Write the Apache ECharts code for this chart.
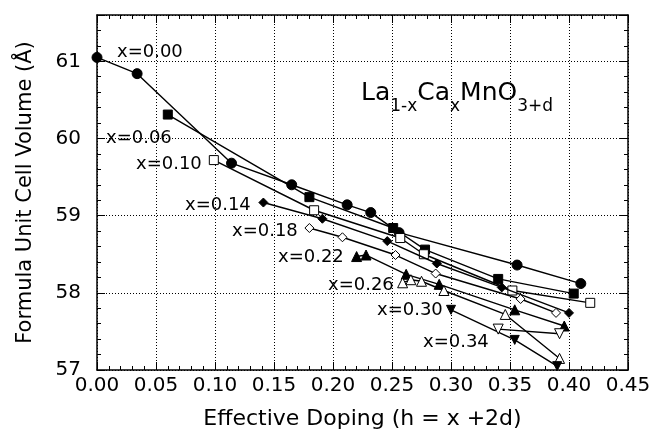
<!DOCTYPE html>
<html>
<head>
<meta charset="utf-8">
<script src="https://cdn.jsdelivr.net/npm/echarts@6/dist/echarts.min.js"></script>
<style>
html, body { margin: 0; padding: 0; background: #fff; }
#chart { width: 654px; height: 437px; }
</style>
</head>
<body>
<div id="chart"></div>
<script>
// composition labels, one per curve
const compositions = ["x=0.00", "x=0.06", "x=0.10", "x=0.14", "x=0.18", "x=0.22", "x=0.26", "x=0.30", "x=0.34"];

// effective doping h and unit cell volume for each composition
const h000 = [0, 0.034, 0.114, 0.165, 0.212, 0.232, 0.256, 0.356, 0.410];
const v000 = [61.05, 60.84, 59.68, 59.40, 59.14, 59.04, 58.78, 58.36, 58.12];
const h006 = [0.060, 0.180, 0.251, 0.278, 0.340, 0.404];
const v006 = [60.31, 59.24, 58.84, 58.56, 58.18, 57.99];
const h010 = [0.099, 0.184, 0.257, 0.277, 0.352, 0.418];
const v010 = [59.72, 59.07, 58.71, 58.50, 58.03, 57.87];
const h014 = [0.141, 0.191, 0.246, 0.288, 0.343, 0.400];
const v014 = [59.17, 58.96, 58.67, 58.38, 58.07, 57.74];
const h018 = [0.180, 0.208, 0.253, 0.287, 0.359, 0.389];
const v018 = [58.84, 58.72, 58.49, 58.25, 57.92, 57.74];
const h022 = [0.220, 0.228, 0.262, 0.290, 0.354, 0.396];
const v022 = [58.47, 58.49, 58.24, 58.11, 57.78, 57.57];
const h026 = [0.259, 0.266, 0.275, 0.294, 0.346, 0.392];
const v026 = [58.13, 58.17, 58.15, 58.03, 57.72, 57.15];
const h030 = [0.300, 0.354, 0.390];
const v030 = [57.78, 57.39, 57.05];
const h034 = [0.340, 0.392];
const v034 = [57.53, 57.47];

const xTicks = [0, 0.05, 0.10, 0.15, 0.20, 0.25, 0.30, 0.35, 0.40, 0.45];
const yTicks = [57, 58, 59, 60, 61];

const FONT = "DejaVu Sans";

function pairs(hs, vs) {
	return hs.map((h, i) => [h, vs[i]]);
}

// marker style per curve: [symbol, filled, size, rotate]
const markers = [
	["circle", true, 10, 0],
	["rect", true, 9, 0],
	["rect", false, 9, 0],
	["diamond", true, 9, 0],
	["diamond", false, 9, 0],
	["triangle", true, 10, 0],
	["triangle", false, 10, 0],
	["triangle", true, 9, 180],
	["triangle", false, 10, 180]
];

const curves = [
	pairs(h000, v000), pairs(h006, v006), pairs(h010, v010),
	pairs(h014, v014), pairs(h018, v018), pairs(h022, v022),
	pairs(h026, v026), pairs(h030, v030), pairs(h034, v034)
];

const series = curves.map((data, i) => {
	const m = markers[i];
	return {
		name: compositions[i],
		type: "line",
		data: data,
		symbol: m[0],
		symbolSize: m[2],
		symbolRotate: m[3],
		showAllSymbol: true,
		lineStyle: { color: "#000", width: 1.4 },
		itemStyle: {
			color: m[1] ? "#000" : "#fff",
			borderColor: "#000",
			borderWidth: 1
		},
		emphasis: { disabled: true },
		animation: false,
		z: 3 + i
	};
});

// where the composition labels sit (left edge, middle) in pixels
const labelSpots = [
	[117, 52], [106, 138], [136, 164], [185, 205], [232, 231],
	[278, 257], [328, 285], [377, 310], [423, 342]
];

const labelGraphics = compositions.map((t, i) => ({
	type: "text",
	x: labelSpots[i][0],
	y: labelSpots[i][1],
	z: 100,
	style: {
		text: t,
		font: "18px '" + FONT + "'",
		fill: "#000",
		align: "left",
		verticalAlign: "middle"
	}
}));

// La(1-x) Ca(x) MnO(3+d) with lowered subscripts
const formulaGraphic = {
	type: "text",
	x: 361,
	y: 81,
	z: 100,
	style: {
		text: "{m|La}{s|1-x}{m|Ca}{s|x}{m|MnO}{s|3+d}",
		fill: "#000",
		rich: {
			m: { fontFamily: FONT, fontSize: 25, lineHeight: 26, verticalAlign: "top", fill: "#000" },
			s: { fontFamily: FONT, fontSize: 17, lineHeight: 34, verticalAlign: "bottom", fill: "#000" }
		}
	}
};

const axisCommon = {
	axisLine: { show: true, onZero: false, lineStyle: { color: "#000", width: 1.5 } },
	axisTick: { show: true, inside: true, length: 8, lineStyle: { color: "#000", width: 1 } },
	minorTick: { show: true, splitNumber: 5, length: 4, lineStyle: { color: "#000", width: 1 } }
};

const xBase = Object.assign({}, axisCommon, {
	type: "value",
	min: xTicks[0],
	max: xTicks[xTicks.length - 1],
	interval: 0.05
});
const yBase = Object.assign({}, axisCommon, {
	type: "value",
	min: yTicks[0],
	max: 61.6,
	interval: 1
});

const chart = echarts.init(document.getElementById("chart"), null, { renderer: "canvas" });
chart.setOption({
	backgroundColor: "#fff",
	animation: false,
	grid: { left: 97, right: 26, top: 15, bottom: 67 },
	xAxis: [
		Object.assign({}, xBase, {
			position: "bottom",
			name: "Effective Doping (h = x +2d)",
			nameLocation: "middle",
			nameGap: 38,
			nameTextStyle: { fontFamily: FONT, fontSize: 22, color: "#000" },
			axisLabel: {
				show: true,
				margin: 6,
				fontFamily: FONT,
				fontSize: 20,
				color: "#000",
				formatter: v => v.toFixed(2)
			},
			splitLine: { show: true, lineStyle: { color: "#000", type: [1, 2], width: 1 } }
		}),
		Object.assign({}, xBase, {
			position: "top",
			axisLabel: { show: false },
			splitLine: { show: false }
		})
	],
	yAxis: [
		Object.assign({}, yBase, {
			position: "left",
			name: "Formula Unit Cell Volume (Å)",
			nameLocation: "middle",
			nameGap: 61,
			nameTextStyle: { fontFamily: FONT, fontSize: 21, color: "#000" },
			axisLabel: {
				show: true,
				margin: 16,
				fontFamily: FONT,
				fontSize: 20,
				color: "#000",
				formatter: v => (yTicks.indexOf(v) >= 0 ? String(v) : "")
			},
			splitLine: { show: true, lineStyle: { color: "#000", type: [1, 2], width: 1 } }
		}),
		Object.assign({}, yBase, {
			position: "right",
			axisLabel: { show: false },
			splitLine: { show: false }
		})
	],
	series: series,
	graphic: labelGraphics.concat([formulaGraphic])
});
</script>
</body>
</html>
